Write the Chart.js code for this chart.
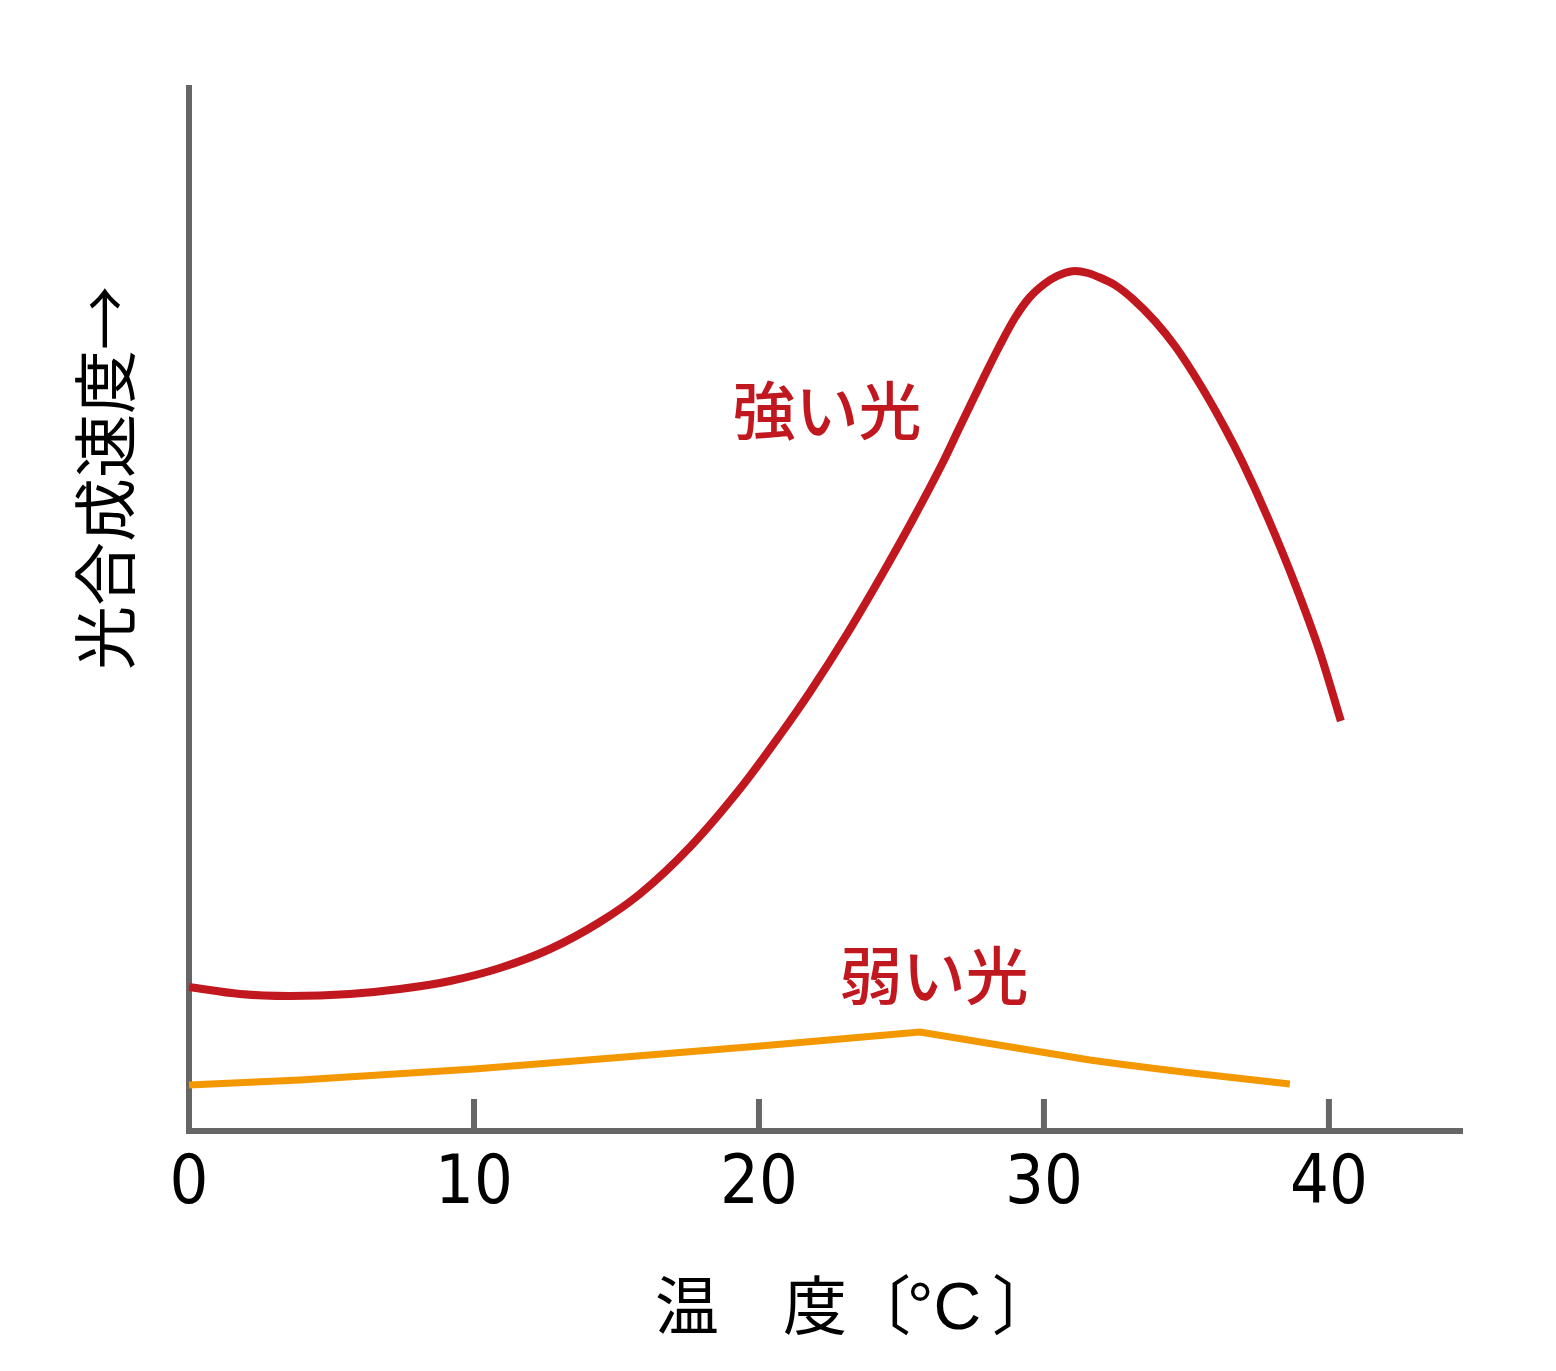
<!DOCTYPE html>
<html lang="ja">
<head>
<meta charset="utf-8">
<title>光合成速度と温度</title>
<script src="https://cdn.jsdelivr.net/npm/chart.js@4.4.1/dist/chart.umd.min.js"></script>
<style>
  html, body { margin: 0; padding: 0; background: #fff; }
  #wrap { width: 1556px; height: 1371px; }
</style>
</head>
<body>
<div id="wrap"><canvas id="chart" width="1556" height="1371"></canvas></div>
<script>
// temperature ticks
const xTicks = [0, 10, 20, 30, 40];

// strong light curve (arbitrary rate units)
const strongX = [0, 1.79, 3.54, 5.65, 7.40, 9.16, 10.91, 12.67, 14.42, 15.82, 17.58, 19.44, 20.74, 21.79, 23.09, 24.35, 25.37, 26.46, 26.98, 27.47, 27.93, 28.46, 28.98, 29.51, 30.21, 30.63, 31.09, 31.54, 32.0, 32.49, 33.12, 33.89, 34.60, 35.47, 36.35, 36.98, 37.86, 38.81, 39.68, 40.42];
const strongY = [14.4, 13.7, 13.5, 13.7, 14.2, 15.0, 16.3, 18.2, 20.9, 23.7, 28.4, 34.6, 39.6, 43.9, 49.7, 55.8, 61.0, 66.9, 70.0, 72.9, 75.6, 78.6, 81.3, 83.4, 85.1, 85.7, 86.0, 85.8, 85.3, 84.6, 83.2, 81.0, 78.5, 74.7, 70.3, 66.8, 61.3, 54.7, 47.9, 41.0];

// weak light curve
const weakX = [0, 3.89, 10, 14.42, 20.04, 25.65, 29.05, 31.61, 32.91, 34.88, 38.63];
const weakY = [4.6, 5.1, 6.2, 7.2, 8.5, 9.9, 8.3, 7.1, 6.6, 5.9, 4.7];

const xMax = 44.67;
const yMax = 104.3;

const AXIS = "#666666";
const RED = "#c1171f";
const ORANGE = "#f39800";
const JP = "'Noto Sans CJK JP', 'Noto Sans CJK SC', sans-serif";

function toPoints(xs, ys) {
  return xs.map((x, i) => ({ x, y: ys[i] }));
}

// short tick marks standing up from the x axis
const tickMarks = {
  id: "tickMarks",
  beforeDatasetsDraw(chart) {
    const { ctx, scales: { x }, chartArea } = chart;
    ctx.save();
    ctx.strokeStyle = AXIS;
    ctx.lineWidth = 6;
    for (const t of xTicks) {
      if (t === 0) continue;
      const px = x.getPixelForValue(t);
      ctx.beginPath();
      ctx.moveTo(px, chartArea.bottom);
      ctx.lineTo(px, chartArea.bottom - 32);
      ctx.stroke();
    }
    ctx.restore();
  },
};

// axis titles and curve labels
const texts = {
  id: "texts",
  afterDraw(chart) {
    const { ctx } = chart;
    ctx.save();

    // x title, pieced together so the degree sign can use a latin face
    ctx.fillStyle = "#000";
    ctx.textAlign = "left";
    ctx.textBaseline = "middle";
    ctx.font = `400 64px ${JP}`;
    ctx.fillText("温　度〔", 655, 1305);
    ctx.font = "400 66px 'Liberation Sans', Arial, sans-serif";
    ctx.textBaseline = "alphabetic";
    ctx.fillText("°C", 907, 1329);
    ctx.textBaseline = "middle";
    ctx.font = `400 64px ${JP}`;
    ctx.fillText("〕", 992, 1305);

    ctx.save();
    ctx.translate(105, 478);
    ctx.rotate(-Math.PI / 2);
    ctx.textAlign = "center";
    ctx.fillText("光合成速度→", 0, 0);
    ctx.restore();

    ctx.fillStyle = RED;
    ctx.font = `500 63px ${JP}`;
    ctx.textAlign = "center";
    ctx.fillText("強い光", 827, 410);
    ctx.fillText("弱い光", 934, 975);
    ctx.restore();
  },
};

new Chart(document.getElementById("chart"), {
  type: "line",
  data: {
    datasets: [
      {
        label: "弱い光",
        data: toPoints(weakX, weakY),
        borderColor: ORANGE,
        borderWidth: 7,
        pointRadius: 0,
        tension: 0,
        clip: false,
      },
      {
        label: "強い光",
        data: toPoints(strongX, strongY),
        borderColor: RED,
        borderWidth: 8,
        pointRadius: 0,
        cubicInterpolationMode: "monotone",
        clip: false,
      },
    ],
  },
  options: {
    responsive: false,
    animation: false,
    layout: { padding: { left: 189, top: 88, right: 94, bottom: 0 } },
    plugins: { legend: { display: false }, tooltip: { enabled: false } },
    scales: {
      x: {
        type: "linear",
        min: 0,
        max: xMax,
        afterBuildTicks: (s) => { s.ticks = xTicks.map((v) => ({ value: v })); },
        afterFit: (s) => { s.height = 240; },
        grid: { display: false, drawTicks: false },
        border: { display: true, color: AXIS, width: 6 },
        ticks: {
          color: "#000",
          padding: 14,
          maxRotation: 0,
          font: { family: "'DejaVu Sans Condensed', 'DejaVu Sans', sans-serif", size: 68 },
        },
      },
      y: {
        min: 0,
        max: yMax,
        afterFit: (s) => { s.width = 0; },
        grid: { display: false, drawTicks: false },
        border: { display: true, color: AXIS, width: 6 },
        ticks: { display: false },
      },
    },
  },
  plugins: [tickMarks, texts],
});
</script>
</body>
</html>
